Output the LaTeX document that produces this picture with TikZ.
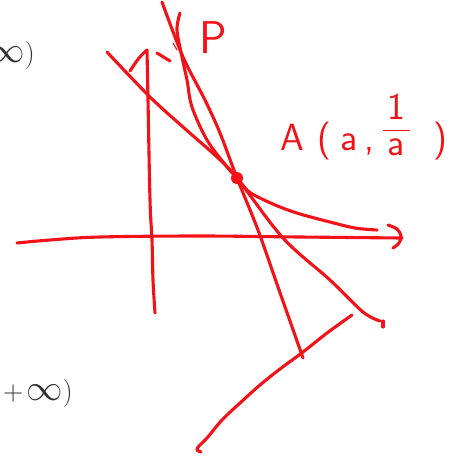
\RequirePackage{fix-cm}
\documentclass[tikz,border=0pt]{standalone}
\definecolor{ink}{RGB}{242,18,24}
\definecolor{txt}{RGB}{50,50,50}
\begin{document}
\begin{tikzpicture}[x=1pt,y=-1pt,
  stroke/.style={draw=ink, line width=3.1pt, line cap=round, line join=round},
  thinstroke/.style={draw=ink, line width=1.1pt, line cap=round},
  gtext/.style={text=txt, inner sep=0pt, font=\fontsize{28}{32}\selectfont},
  handtext/.style={text=ink, inner sep=0pt}]
\useasboundingbox (0,0) rectangle (468,459);
\clip (0,0) rectangle (468,459);

% grey interval ends
\node[gtext, anchor=east] (inftop) at (35,55) {$+\mkern2mu\scalebox{1.3}{$\infty$})$};
\node[gtext, anchor=west] (infbot) at (3,393.5) {$+\mkern2mu\scalebox{1.3}{$\infty$})$};

\coordinate (A) at (237,178);

% x-axis
\draw[stroke] plot[smooth, tension=0.6] coordinates {(17,243) (50,240) (100,237) (200,236) (300,237) (402,238)};
\draw[stroke] plot[smooth, tension=0.6] coordinates {(388,225) (397,229) (401,236) (399,243) (393,248)};

% y-axis
\draw[stroke] plot[smooth, tension=0.6] coordinates {(147,50) (148,100) (150,200) (152,240) (153,280) (155,313)};
\draw[stroke] plot[smooth, tension=0.6] coordinates {(147,50) (139,58) (130,71)};
\draw[stroke] (157,53) -- (170,61);
\draw[thinstroke] (173,43) -- (177,50);

% hyperbola branch
\draw[stroke] plot[smooth, tension=0.55] coordinates {(180,13) (177,30) (182,57) (187,80) (192,107) (207,140) (227,167) (A) (248,191) (262,199) (280,207) (300,214) (330,222) (355,228) (377,230)};

% steep line through A
\draw[stroke] plot[smooth, tension=0.5] coordinates {(162,2) (183,57) (205,100) (220,133) (A) (258,230) (278,287) (303,358)};

% second line through A
\draw[stroke] plot[smooth, tension=0.55] coordinates {(107,52) (150,97) (183,127) (217,157) (A) (283,238) (330,280) (363,312) (380,321)};
\draw[stroke] (383,321) -- (383,327);

% lower line
\draw[stroke] plot[smooth, tension=0.55] coordinates {(352,315) (327,333) (303,352) (280,369) (260,385) (240,403) (222,420) (207,438) (199,446) (197,450) (201,452)};

% point A
\fill[ink] (A) circle[radius=6];

% labels
\node[handtext, font=\fontsize{46}{50}\selectfont\sffamily] (plabel) at (213,38) {P};
\node[handtext, anchor=base west, font=\fontsize{38}{44}\selectfont\sffamily] (alabel) at (280,150)
  {A\hspace{13.7pt}(\hspace{9.2pt}a\hspace{6.3pt},\hspace{7.6pt}\raisebox{10pt}{$\frac{\raisebox{6pt}{\textsf{1}}}{\hspace{5pt}\textsf{a}\rule{0pt}{24pt}\hspace{5pt}}$}\hspace{22.5pt})};
\end{tikzpicture}
\end{document}
